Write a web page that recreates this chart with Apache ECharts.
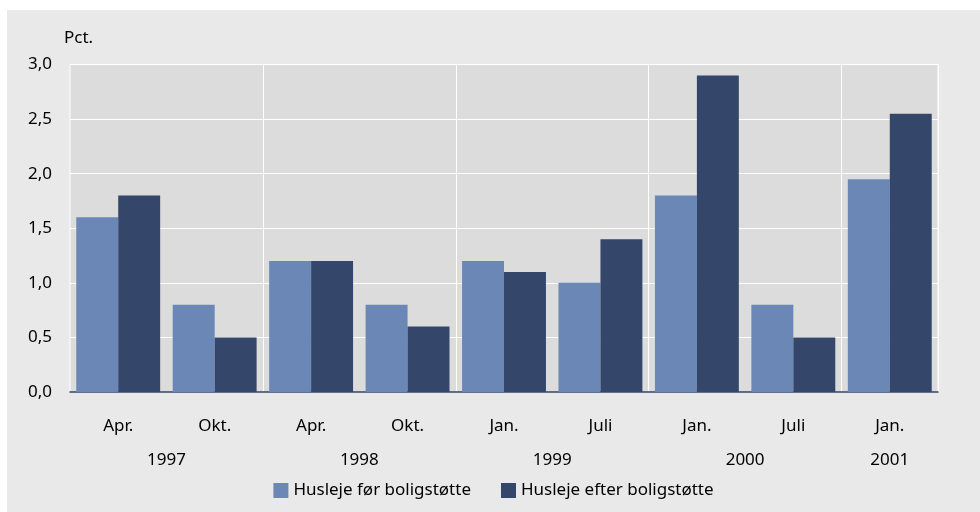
<!DOCTYPE html>
<html><head><meta charset="utf-8">
<script src="https://cdn.jsdelivr.net/npm/echarts@6/dist/echarts.min.js"></script>
<style>
html,body{margin:0;padding:0;background:#fff;width:980px;height:512px;overflow:hidden;}
#c{position:absolute;left:7px;top:10px;width:973px;height:502px;}
</style></head>
<body><div id="c"></div>
<script>
const categories = ['Apr.','Okt.','Apr.','Okt.','Jan.','Juli','Jan.','Juli','Jan.'];
const serieFor = [1.6, 0.8, 1.2, 0.8, 1.2, 1.0, 1.8, 0.8, 1.95];
const serieEfter = [1.8, 0.5, 1.2, 0.6, 1.1, 1.4, 2.9, 0.5, 2.55];
const seriesNames = ['Husleje før boligstøtte','Husleje efter boligstøtte'];
const yearLabels = ['1997','1998','1999','2000','2001'];
// positions in half-category units (category i centre = 2i+1)
const yearPos = [2, 6, 10, 14, 17];
const yearSeparatorsBefore = [2, 4, 6, 8];

const FONT = 'Noto Sans';
const TXT = '#000000';
const chart = echarts.init(document.getElementById('c'));
const yearMap = {};
yearPos.forEach((p,i)=>{yearMap[p]=yearLabels[i];});

chart.setOption({
  backgroundColor:'#e9e9e9',
  animation:false,
  textStyle:{fontFamily:FONT},
  title:{text:'Pct.',left:52,top:15,textStyle:{fontFamily:FONT,fontSize:17,fontWeight:'normal',color:TXT}},
  legend:{
    bottom:8,left:'center',itemWidth:15,itemHeight:15,itemGap:30,
    icon:'rect',
    textStyle:{fontFamily:FONT,fontSize:17,color:TXT},
    data:seriesNames
  },
  grid:{left:63,top:54.5,right:42,bottom:120,show:true,backgroundColor:'#dcdcdc',borderColor:'#ffffff',borderWidth:1,containLabel:false},
  xAxis:[{
    type:'category',data:categories,
    axisLine:{show:true,lineStyle:{color:'#2e3f63',width:1.5}},
    axisTick:{show:false},
    axisLabel:{fontFamily:FONT,fontSize:17,color:TXT,margin:26,interval:0},
    splitLine:{show:true,interval:function(i){return yearSeparatorsBefore.indexOf(i)>=0;},lineStyle:{color:'#ffffff',width:1}}
  },{
    type:'value',min:0,max:18,interval:1,position:'bottom',
    axisLine:{show:false},axisTick:{show:false},splitLine:{show:false},
    axisLabel:{fontFamily:FONT,fontSize:17,color:TXT,margin:60,showMinLabel:true,showMaxLabel:true,
      formatter:function(v){return yearMap[v]||'';}}
  }],
  yAxis:{
    type:'value',min:0,max:3,interval:0.5,
    axisLine:{show:false},axisTick:{show:false},
    axisLabel:{fontFamily:FONT,fontSize:17,color:TXT,margin:18,formatter:function(v){return v.toFixed(1).replace('.',',');}},
    splitLine:{lineStyle:{color:'#ffffff',width:1}}
  },
  series:[
    {name:seriesNames[0],type:'bar',data:serieFor,barGap:'0%',barCategoryGap:'13%',itemStyle:{color:'#6b87b5'}},
    {name:seriesNames[1],type:'bar',data:serieEfter,barGap:'0%',barCategoryGap:'13%',itemStyle:{color:'#34476b'}}
  ]
});
</script></body></html>
